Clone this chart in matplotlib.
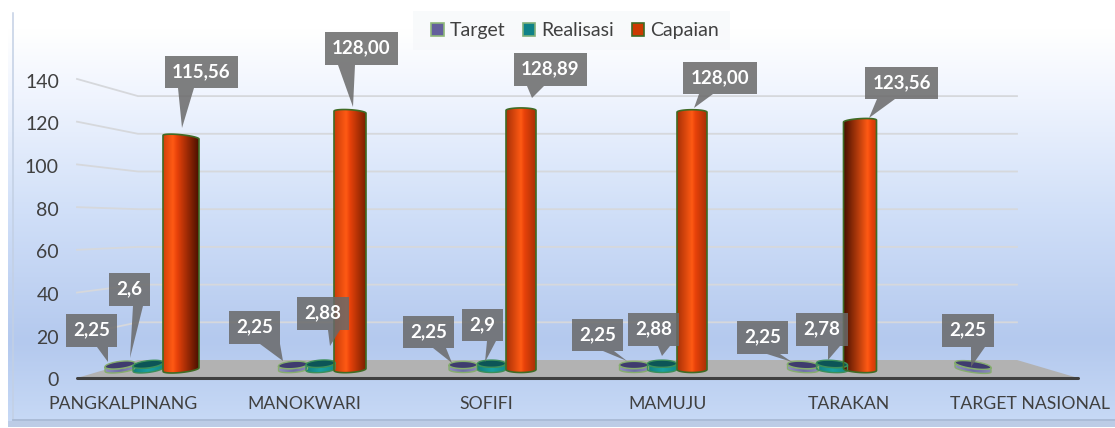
import numpy as np
import matplotlib
matplotlib.use("Agg")
import matplotlib.pyplot as plt
from matplotlib.colors import LinearSegmentedColormap
from matplotlib.patches import PathPatch, Patch, Polygon, Rectangle
from matplotlib.path import Path
from matplotlib.transforms import ScaledTranslation

plt.rcParams['font.family'] = ['Lato', 'DejaVu Sans']

# data
categories = ["PANGKALPINANG", "MANOKWARI", "SOFIFI", "MAMUJU", "TARAKAN", "TARGET NASIONAL"]
target = [2.25, 2.25, 2.25, 2.25, 2.25, 2.25]
realisasi = [2.6, 2.88, 2.9, 2.88, 2.78, None]
capaian = [115.56, 128.00, 128.89, 128.00, 123.56, None]
y_ticks = [0, 20, 40, 60, 80, 100, 120, 140]

W, H = 1115, 428
SCALE = 2.01     # px per value unit for the bars
ZERO_PX = 369.5  # px row of value 0 for the bars

# layout, in px of the picture
target_x = [120, 293, 463, 634, 803, 973]
realisasi_x = [148, 320.5, 491.5, 662, 832, None]
capaian_x = [181, 350, 521, 692, 860, None]
disc_w = [15, 14.5, 14, 14.5, 15.5, 18]
capaian_w = [18, 16, 15, 15, 16.5, None]
tilt = [1.8, 1.0, 0.0, 0.0, -1.0, -2.5]
# x0, y0, x1, y1, pointer base left, pointer base right, tip x, tip y
target_box = [(66, 314, 117, 347, 97, 108, 108, 362), (229, 311, 280, 344, 260, 280, 283, 361),
              (403, 316, 454, 348, 433, 446, 452, 363), (572, 319, 623, 351, 603, 614, 627, 361),
              (737, 321, 788, 354, 767, 780, 792, 362), (942, 314, 994, 347, 971, 985, 971, 367)]
realisasi_box = [(109, 273, 150, 306, 133, 143, 130, 358), (297, 297, 349, 330, 328, 340, 330, 346),
                 (462, 309, 503, 341, 487, 496, 485, 362), (628, 313, 679, 346, 658, 670, 662, 356),
                 (796, 313, 848, 346, 828, 840, 828, 360)]
capaian_box = [(165, 56, 238, 88, 178, 194, 182, 128), (325, 32, 398, 65, 338, 355, 353, 107),
               (514, 53, 587, 86, 527, 544, 532, 98), (683, 62, 757, 94, 699, 713, 694, 108),
               (865, 67, 938, 99, 877, 895, 869, 118)]
# highlight position and the edge colours of each red cylinder
capaian_light = [0.27, 0.38, 0.5, 0.5, 0.72]
capaian_left = ['#d2400a', '#c93c08', '#a83006', '#a83006', '#4a1000']
capaian_right = ['#4a1000', '#7a2000', '#a83006', '#a83006', '#c93c08']


def px_axes(zorder):
    a = fig.add_axes([0, 0, 1, 1], zorder=zorder)
    a.set_xlim(0, W)
    a.set_ylim(H, 0)
    a.axis('off')
    a.patch.set_alpha(0)
    return a


def arc(cx, w, base, ry, tl, t0, t1):
    """ points of an elliptical arc, ry and tl are in px """
    t = np.linspace(t0, t1, 40)
    return np.column_stack([cx + w * np.cos(t), base + (ry * np.sin(t) + tl * np.cos(t)) / SCALE])


def cylinder(a, cx, w, value, cmap, edge, ry_base, ry_top, top_flip, top_color=None, lw=1.0):
    low = arc(cx, w, 0, ry_base, tilt_now, np.pi, 2 * np.pi)
    if top_flip:
        # tall bar, seen from under its top
        top = arc(cx, w, value, ry_top, -tilt_now, 0, np.pi)
    else:
        top = arc(cx, w, value, ry_top, tilt_now, 2 * np.pi, np.pi)
    pts = np.vstack([low, top, low[:1]])
    body = PathPatch(Path(pts), fc='none', ec='none')
    a.add_patch(body)
    grad = np.linspace(0, 1, 128).reshape(1, -1)
    im = a.imshow(grad, extent=(cx - w, cx + w, -5, value + 5), cmap=cmap, aspect='auto',
                  interpolation='bilinear', zorder=2)
    im.set_clip_path(body)
    a.add_patch(PathPatch(Path(pts), fc='none', ec=edge, lw=lw, zorder=3))
    if top_color is not None:
        t = np.linspace(0, 2 * np.pi, 60)
        face = np.column_stack([cx + w * np.cos(t),
                                value + (ry_top * np.sin(t) + tilt_now * np.cos(t)) / SCALE])
        a.add_patch(Polygon(face, closed=True, fc=top_color, ec=edge, lw=lw, zorder=3))


def callout(a, box, label):
    x0, y0, x1, y1, b0, b1, tx, ty = box
    pts = [(x0, y0), (x1, y0), (x1, y1), (b1, y1), (tx, ty), (b0, y1), (x0, y1)]
    a.add_patch(Polygon(pts, closed=True, fc='#696969', ec='none', alpha=0.85))
    a.text((x0 + x1) / 2, (y0 + y1) / 2 - 0.5, label, color='white', fontsize=13.5,
           fontweight='bold', ha='center', va='center')


fig = plt.figure(figsize=(W / 100, H / 100), dpi=100, facecolor='white')

# background, walls and floor
ax_bg = px_axes(0)
bg = LinearSegmentedColormap.from_list('bg', [(0, '#ffffff'), (0.07, '#ffffff'), (0.23, '#eff4fe'),
                                              (0.5, '#d0dff8'), (0.8, '#b4c9ee'), (1, '#c8daf6')])
ax_bg.imshow(np.linspace(0, 1, 256).reshape(-1, 1), extent=(8, W, 427, 0), cmap=bg, aspect='auto')
ax_bg.add_patch(Rectangle((8, 0), 5, 13, fc='white', ec='none'))
ax_bg.set_xlim(0, W)
ax_bg.set_ylim(H, 0)
ax_bg.plot([13, 13], [13, 420], color='#c3d0e4', lw=1.1)
ax_bg.plot([13, W], [420, 420], color='#a9bad4', lw=1.3)
ax_bg.add_patch(Rectangle((8, 421), W - 8, 6, fc='#bccce6', ec='none'))
for tk in y_ticks:
    front = 378 - tk * 2.136
    back = 360 - tk * 1.885
    if tk > 0:
        ax_bg.plot([77, 138, 1017], [front, back, back], color='#d6d8dc', lw=1.3, solid_joinstyle='round')
ax_bg.add_patch(Polygon([(77, 378), (138, 360), (1017, 360), (1078, 378)], closed=True, fc='#b2b2b2', ec='none'))
ax_bg.plot([77, 1078], [378, 378], color='#404040', lw=2.2, solid_capstyle='round')
for i, name in enumerate(categories):
    ax_bg.text(123 + 181.5 * i, 404, name, color='#404040', fontsize=12.7, ha='center', va='center')

# value axis on the front edge of the floor
ax_y = fig.add_axes([77 / W, (H - 378) / H, 300 / W, 299 / H], zorder=1)
ax_y.patch.set_alpha(0)
ax_y.set_ylim(0, 140)
ax_y.set_yticks(y_ticks)
ax_y.set_xticks([])
ax_y.tick_params(axis='y', length=0, pad=13, labelsize=14, labelcolor='#404040')
for label in ax_y.get_yticklabels():
    label.set_transform(label.get_transform() + ScaledTranslation(0, -0.015, fig.dpi_scale_trans))
for s in ax_y.spines.values():
    s.set_visible(False)

# cylinders: x in px of the picture, y in chart values
ax_b = fig.add_axes([0, 0, 1, 1], zorder=2)
ax_b.axis('off')
ax_b.patch.set_alpha(0)
ax_b.set_autoscale_on(False)

cm_target = LinearSegmentedColormap.from_list('t', ['#8f8fc0', '#6f6fa8', '#8a8ab8'])
cm_real = LinearSegmentedColormap.from_list('r', ['#14807e', '#1aa3a0', '#128a88'])
for i in range(len(categories)):
    tilt_now = tilt[i]
    cylinder(ax_b, target_x[i], disc_w[i], target[i], cm_target, '#86ad6e', 3, 3.6, False, '#3f3c6e', 1.0)
    if realisasi[i] is not None:
        cylinder(ax_b, realisasi_x[i], disc_w[i], realisasi[i], cm_real, '#3c8f5a', 3, 3.6, False, '#0c5557', 1.0)
    if capaian[i] is not None:
        cm = LinearSegmentedColormap.from_list('c' + str(i), [(0, capaian_left[i]), (capaian_light[i], '#ff5a14'),
                                                              (min(capaian_light[i] + 0.12, 0.95), '#e8420a'),
                                                              (1, capaian_right[i])])
        cylinder(ax_b, capaian_x[i], capaian_w[i], capaian[i], cm, '#3f6b25', 3, 2.5, True, None, 1.2)
ax_b.set_xlim(0, W)
ax_b.set_ylim((ZERO_PX - H) / SCALE, ZERO_PX / SCALE)

# data labels and legend
ax_o = px_axes(3)
for i, box in enumerate(target_box):
    callout(ax_o, box, f"{target[i]:g}".replace('.', ','))
for i, box in enumerate(realisasi_box):
    callout(ax_o, box, f"{realisasi[i]:g}".replace('.', ','))
for i, box in enumerate(capaian_box):
    callout(ax_o, box, f"{capaian[i]:.2f}".replace('.', ','))

ax_o.add_patch(Rectangle((413, 11), 317, 39, fc='#f4f6f9', ec='none', alpha=0.55))
handles = [Patch(fc='#64609c', ec='#8fb87a', lw=1.2, label='Target'),
           Patch(fc='#0f8288', ec='#7fb07a', lw=1.2, label='Realisasi'),
           Patch(fc='#cc3a00', ec='#3f6b25', lw=1.2, label='Capaian')]
leg = ax_o.legend(handles=handles, ncol=3, loc='center', bbox_to_anchor=(575, 30.5),
                  bbox_transform=ax_o.transData, fontsize=14, frameon=False, handlelength=0.65,
                  handleheight=0.65, handletextpad=0.3, columnspacing=0.9, borderpad=0.5,
                  labelcolor='#404040', borderaxespad=0)

fig.savefig('out.png', dpi=100)
